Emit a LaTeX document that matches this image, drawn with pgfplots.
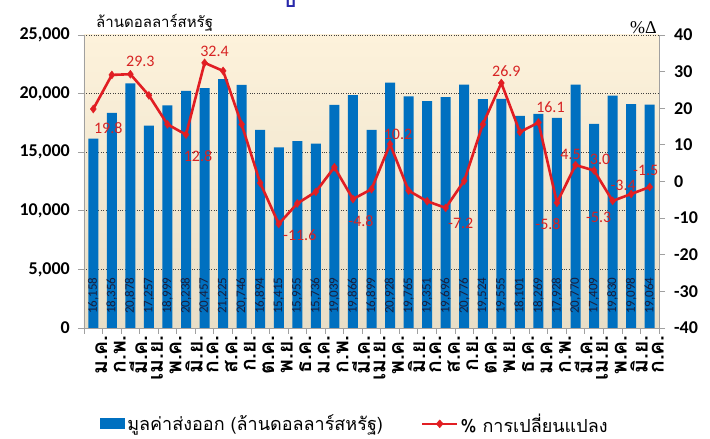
\documentclass[border=0pt]{standalone}
\usepackage{fontspec}
\setmainfont{Carlito}
\newfontfamily\thaifont[Script=Thai]{Loma}
\newfontfamily\serifgreek{Liberation Serif}
\usepackage{pgfplots}
\pgfplotsset{compat=1.18}
\usepackage{pgfplotstable}
\definecolor{barblue}{RGB}{0,112,192}
\definecolor{linered}{RGB}{225,30,35}
\definecolor{labred}{RGB}{215,35,35}
\definecolor{axgray}{RGB}{160,160,160}
\definecolor{bgtop}{RGB}{253,242,219}
\definecolor{bgbot}{RGB}{232,222,199}
\definecolor{valtext}{RGB}{25,30,60}

\pgfplotstableread{
x val ly pct
0 16158 2750 19.8
1 18356 2750 29.1
2 20878 2750 29.3
3 17257 2750 23.5
4 18999 2750 15.6
5 20238 2750 12.8
6 20457 2750 32.4
7 21225 2750 30.2
8 20746 2750 15.6
9 16894 2750 -0.4
10 15415 2750 -11.6
11 15955 2750 -6.0
12 15736 2750 -2.8
13 19039 2750 3.9
14 19866 2750 -4.8
15 16899 2750 -2.1
16 20928 2750 10.2
17 19765 2750 -2.5
18 19351 2750 -5.4
19 19696 2750 -7.2
20 20776 2750 0.2
21 19524 2750 15.6
22 19555 2750 26.9
23 18101 2750 13.5
24 18269 2750 16.1
25 17928 2750 -5.8
26 20770 2750 4.5
27 17409 2750 3.0
28 19830 2750 -5.3
29 19098 2750 -3.4
30 19064 2750 -1.5
}\datatable

\begin{document}
\begin{tikzpicture}
\begin{axis}[
  at={(84pt,111pt)}, anchor=south west,
  width=575pt, height=293pt, scale only axis,
  xmin=-0.5, xmax=30.5, ymin=0, ymax=25000,
  axis y line*=left, axis x line*=bottom,
  axis line style={axgray, line width=0.8pt, -},
  axis background/.style={top color=bgtop, bottom color=bgbot},
  ytick={0,5000,...,25000},
  scaled y ticks=false,
  ymajorgrids, grid style={black!75, dotted, line width=0.8pt},
  /pgf/number format/1000 sep={,},
  /pgf/number format/assume math mode=true,
  yticklabel style={font=\bfseries\fontsize{18}{18}\selectfont, inner sep=1pt, xshift=-7pt},
  xtick={0,...,30},
  xticklabels={ม.ค.,ก.พ.,มี.ค.,เม.ย.,พ.ค.,มิ.ย.,ก.ค.,ส.ค.,ก.ย.,ต.ค.,พ.ย.,ธ.ค.,ม.ค.,ก.พ.,มี.ค.,เม.ย.,พ.ค.,มิ.ย.,ก.ค.,ส.ค.,ก.ย.,ต.ค.,พ.ย.,ธ.ค.,ม.ค.,ก.พ.,มี.ค.,เม.ย.,พ.ค.,มิ.ย.,ก.ค.},
  x tick label style={rotate=90, anchor=east, font=\thaifont\bfseries\fontsize{21}{21}\selectfont, inner sep=1pt, yshift=-8pt},
  major x tick style={draw=none},
  minor xtick={-0.5,0.5,...,30.5},
  minor x tick style={axgray, line width=0.8pt},
  y tick style={axgray, line width=0.8pt},
  tick align=outside,
  major tick length=6pt, minor tick length=6pt,
  legend style={at={(0.028,-0.327)}, anchor=west, draw=none, fill=none,
    legend columns=2, font=\thaifont\fontsize{18}{18}\selectfont,
    /tikz/every even column/.append style={column sep=36pt},
    inner sep=0pt},
  legend cell align=left,
  clip=false,
]
\addplot[ybar, bar width=10pt, fill=barblue, draw=none,
  legend image code/.code={\fill[barblue] (0pt,-5.5pt) rectangle (25pt,5.5pt);}]
  table[x=x,y=val]{\datatable};
\addlegendentry{มูลค่าส่งออก (ล้านดอลลาร์สหรัฐ)}
\addplot[only marks, mark=none, forget plot, nodes near coords, point meta=explicit,
  nodes near coords style={rotate=90, anchor=center, font=\fontsize{13}{13}\selectfont, text=valtext, inner sep=0pt}]
  table[x=x,y=ly,meta=val]{\datatable};
\addlegendimage{legend image code/.code={\draw[linered, line width=2.6pt] (0pt,0pt) -- (35pt,0pt);
  \fill[linered] (17.5pt,4pt) -- (21pt,0pt) -- (17.5pt,-4pt) -- (14pt,0pt) -- cycle;}}
\addlegendentry{\% การเปลี่ยนแปลง}
\end{axis}

\begin{axis}[
  at={(84pt,111pt)}, anchor=south west,
  width=575pt, height=293pt, scale only axis,
  xmin=-0.5, xmax=30.5, ymin=-40, ymax=40,
  axis y line*=right, axis x line=none,
  axis line style={axgray, line width=0.8pt, -},
  ytick={-40,-30,...,40},
  /pgf/number format/assume math mode=true,
  yticklabel style={font=\bfseries\fontsize{18}{18}\selectfont, inner sep=1pt, xshift=8pt},
  y tick style={axgray, line width=0.8pt},
  tick align=outside, major tick length=6pt,
  clip=false,
]
\addplot[linered, line width=2.6pt, mark=diamond*, mark size=4pt,
  mark options={fill=linered, draw=linered, line width=0.4pt}]
  table[x=x,y=pct]{\datatable};
\begin{scope}[every node/.style={font=\fontsize{16}{16}\selectfont, text=labred, inner sep=0pt}]
\node at (axis cs:0,19.8) [xshift=15pt, yshift=-19pt] {19.8};
\node at (axis cs:2,29.3) [xshift=10pt, yshift=13pt] {29.3};
\node at (axis cs:5,12.8) [xshift=12pt, yshift=-21pt] {12.8};
\node at (axis cs:6,32.4) [xshift=10pt, yshift=11pt] {32.4};
\node at (axis cs:10,-11.6) [xshift=21pt, yshift=-11pt] {-11.6};
\node at (axis cs:14,-4.8) [xshift=8pt, yshift=-22pt] {-4.8};
\node at (axis cs:16,10.2) [xshift=8pt, yshift=10pt] {10.2};
\node at (axis cs:19,-7.2) [xshift=15pt, yshift=-16pt] {-7.2};
\node at (axis cs:22,26.9) [xshift=5pt, yshift=12pt] {26.9};
\node at (axis cs:24,16.1) [xshift=12pt, yshift=15pt] {16.1};
\node at (axis cs:25,-5.8) [xshift=-9pt, yshift=-21pt] {-5.8};
\node at (axis cs:26,4.5) [xshift=-5pt, yshift=11pt] {4.5};
\node at (axis cs:27,3.0) [xshift=6pt, yshift=11pt] {3.0};
\node at (axis cs:28,-5.3) [xshift=-14pt, yshift=-16pt] {-5.3};
\node at (axis cs:29,-3.4) [xshift=-8pt, yshift=9pt] {-3.4};
\node at (axis cs:30,-1.5) [xshift=-4pt, yshift=17pt] {-1.5};
\end{scope}
\end{axis}

\node[anchor=base west, inner sep=0pt, font=\thaifont\fontsize{15}{15}\selectfont] at (96pt,411pt) {ล้านดอลลาร์สหรัฐ};
\node[anchor=base east, inner sep=0pt, font=\serifgreek\fontsize{18}{18}\selectfont] at (657pt,405pt) {\%Δ};
\node[anchor=base, inner sep=0pt, text={rgb,255:red,40;green,40;blue,170}, font=\thaifont\bfseries\fontsize{20}{20}\selectfont] at (290pt,431pt) {บ};

\pgfresetboundingbox
\path[use as bounding box] (0pt,0pt) rectangle (710pt,439pt);
\end{tikzpicture}
\end{document}
